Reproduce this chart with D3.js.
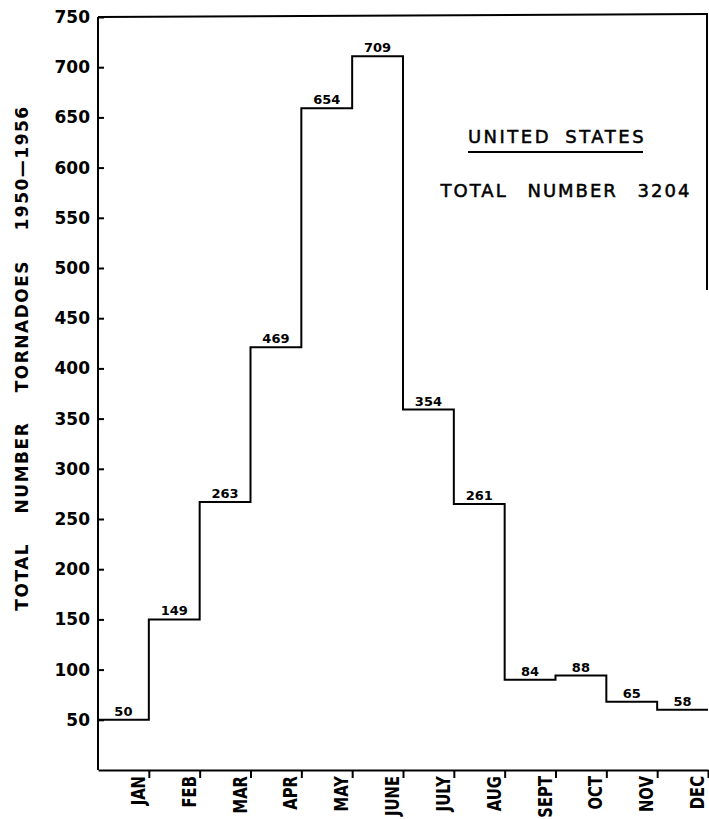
<!DOCTYPE html>
<html>
<head>
<meta charset="utf-8">
<script src="https://cdn.jsdelivr.net/npm/d3@7"></script>
<style>
  html, body { margin: 0; padding: 0; background: #fff; }
  svg { display: block; }
  text { font-family: "DejaVu Sans", sans-serif; fill: #000; }
</style>
</head>
<body>
<script>
// ---- data ----
const months = ["JAN", "FEB", "MAR", "APR", "MAY", "JUNE", "JULY", "AUG", "SEPT", "OCT", "NOV", "DEC"];
// step heights as drawn on the chart
const values = [50, 150, 267, 421, 659, 711, 359, 265, 90, 94, 68, 60];
// numbers printed above each step
const valueLabels = ["50", "149", "263", "469", "654", "709", "354", "261", "84", "88", "65", "58"];
const yTicks = [50, 100, 150, 200, 250, 300, 350, 400, 450, 500, 550, 600, 650, 700, 750];
const yTitle = "TOTAL  NUMBER  TORNADOES  1950—1956";
const boxTitle = "UNITED STATES";
const boxSubtitle = "TOTAL NUMBER 3204";

// ---- layout ----
const W = 709, H = 819;
const svg = d3.select("body").append("svg").attr("width", W).attr("height", H);

const x = d3.scaleLinear().domain([0, months.length]).range([98, 708]);
const y = d3.scaleLinear().domain([0, 750]).range([770, 17]);

// frame top and right edge
svg.append("line")
  .attr("x1", x(0)).attr("x2", 707)
  .attr("y1", y(750)).attr("y2", y(750) - 3)
  .attr("stroke", "#000").attr("stroke-width", 2);
svg.append("line")
  .attr("x1", 707).attr("x2", 707)
  .attr("y1", y(750) - 4).attr("y2", 290)
  .attr("stroke", "#000").attr("stroke-width", 2);

// y axis
const yAxis = d3.axisLeft(y)
  .tickValues(yTicks)
  .tickSize(-6)
  .tickSizeOuter(0)
  .tickPadding(8)
  .tickFormat(d3.format("d"));
const gy = svg.append("g").attr("transform", `translate(${x(0)},0)`).call(yAxis);
gy.select(".domain").attr("d", `M0,${y(0)}V${y(750)}`).attr("stroke-width", 2);
gy.selectAll(".tick line").attr("stroke-width", 2);
gy.selectAll(".tick text")
  .style("font-family", "DejaVu Sans, sans-serif")
  .style("font-size", "17px")
  .style("font-weight", "bold");

// x axis
const xAxis = d3.axisBottom(x)
  .tickValues(d3.range(1, months.length + 1))
  .tickSize(8)
  .tickSizeOuter(0)
  .tickFormat("");
const gx = svg.append("g").attr("transform", `translate(0,${y(0)})`).call(xAxis);
gx.select(".domain").attr("stroke-width", 2);
gx.selectAll(".tick line").attr("stroke-width", 2);

// month labels (rotated, condensed lettering)
svg.append("g").selectAll("text")
  .data(months)
  .join("text")
  .attr("transform", (d, i) => `translate(${x(i + 1) - 4},${y(0) + 6}) rotate(-90) scale(0.78,1)`)
  .attr("text-anchor", "end")
  .style("font-size", "19px")
  .style("font-weight", "bold")
  .text(d => d);

// step line
const pts = values.map((v, i) => [i, v]).concat([[months.length, values[values.length - 1]]]);
const line = d3.line()
  .x(d => x(d[0]))
  .y(d => y(d[1]))
  .curve(d3.curveStepAfter);
svg.append("path")
  .datum(pts)
  .attr("d", line)
  .attr("fill", "none")
  .attr("stroke", "#000")
  .attr("stroke-width", 2);

// value labels
svg.append("g").selectAll("text")
  .data(values)
  .join("text")
  .attr("x", (d, i) => x(i + 0.5))
  .attr("y", d => y(d) - 4)
  .attr("text-anchor", "middle")
  .style("font-size", "13px")
  .style("font-weight", "bold")
  .text((d, i) => valueLabels[i]);

// y axis title
svg.append("text")
  .attr("transform", `translate(28,${358}) rotate(-90)`)
  .attr("text-anchor", "middle")
  .style("font-size", "17px")
  .style("font-weight", "bold")
  .style("letter-spacing", "1.5px")
  .style("word-spacing", "22px")
  .text(yTitle);

// in-chart title
svg.append("text")
  .attr("x", 557).attr("y", 143)
  .attr("text-anchor", "middle")
  .style("font-size", "18px")
  .style("letter-spacing", "2.5px")
  .style("word-spacing", "6px")
  .attr("stroke", "#000").attr("stroke-width", 0.5)
  .text(boxTitle);
svg.append("line")
  .attr("x1", 468).attr("x2", 643)
  .attr("y1", 152).attr("y2", 152)
  .attr("stroke", "#000").attr("stroke-width", 2);
svg.append("text")
  .attr("x", 566).attr("y", 197)
  .attr("text-anchor", "middle")
  .style("font-size", "18px")
  .style("letter-spacing", "2px")
  .style("word-spacing", "12px")
  .attr("stroke", "#000").attr("stroke-width", 0.5)
  .text(boxSubtitle);
</script>
</body>
</html>
